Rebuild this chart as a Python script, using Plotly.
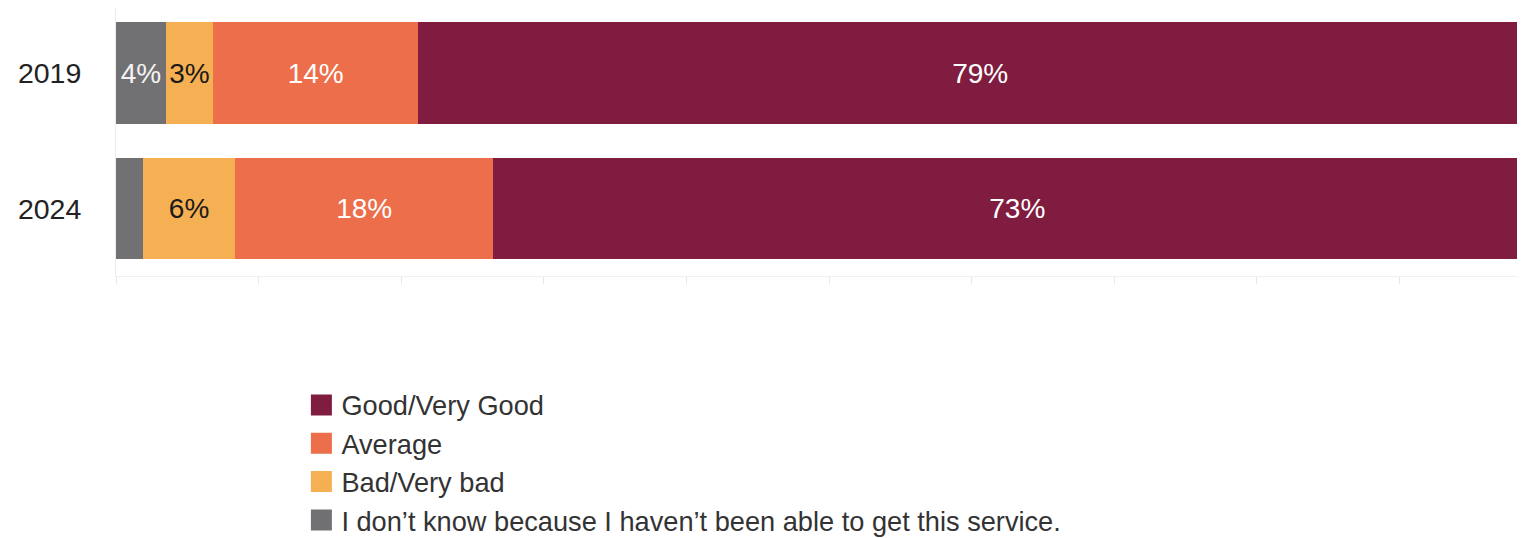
import plotly.graph_objects as go

years = ["2019", "2024"]
categories = ["I don\u2019t know because I haven\u2019t been able to get this service.",
              "Bad/Very bad", "Average", "Good/Very Good"]
colors = ["#717073", "#F5B053", "#EC6E4A", "#7F1C40"]
text_colors = ["#f4f4f4", "#1a1a1a", "#ffffff", "#ffffff"]
dont_know = [3.5, 1.9]
bad = [3.3, 6.45]
average = [14.4, 18.1]
good = [78.8, 73.5]
labels_dont_know = ["4%", ""]
labels_bad = ["3%", "6%"]
labels_average = ["14%", "18%"]
labels_good = ["79%", "73%"]

series = [dont_know, bad, average, good]
labels = [labels_dont_know, labels_bad, labels_average, labels_good]

FONT = "Liberation Sans, Arial, sans-serif"

fig = go.Figure()
for name, vals, labs, col, tcol in zip(categories, series, labels, colors, text_colors):
    fig.add_trace(go.Bar(
        y=years, x=vals, orientation="h", name=name,
        marker=dict(color=col, line=dict(width=0)),
        text=labs, textposition="inside", insidetextanchor="middle",
        textangle=0, constraintext="none",
        textfont=dict(family=FONT, size=28, color=tcol),
        showlegend=False, hoverinfo="skip",
    ))

# legend entries (top to bottom)
for name, col in zip(categories[::-1], colors[::-1]):
    fig.add_trace(go.Scatter(
        x=[None], y=[None], mode="markers", name=name,
        marker=dict(symbol="square", size=24, color=col,
                    line=dict(color=col, width=5)),
        showlegend=True,
    ))

fig.update_layout(
    width=1517, height=530,
    margin=dict(l=108, r=0, t=0, b=262, autoexpand=False),
    barmode="stack", bargap=0.25,
    paper_bgcolor="white", plot_bgcolor="white",
    font=dict(family=FONT, color="#222222"),
    xaxis=dict(range=[0, 98.8], showgrid=False, zeroline=False,
               showticklabels=False, tickmode="linear", tick0=0, dtick=10,
               ticks="outside", ticklen=7, tickcolor="#e8e8e8",
               showline=True, linecolor="#f0f0f0", linewidth=1, fixedrange=True),
    yaxis=dict(type="category", range=[1.498, -0.48], showgrid=False,
               zeroline=False, showline=True, linecolor="#ececec",
               ticks="", ticklabelstandoff=28,
               tickfont=dict(family=FONT, size=28.5, color="#222222")),
    legend=dict(xref="container", yref="container", x=0.1934, y=0.2968,
                xanchor="left", yanchor="top", traceorder="normal",
                font=dict(family=FONT, size=27.2, color="#333333"),
                bgcolor="rgba(0,0,0,0)", itemwidth=30),
)

fig.write_html("out.html")
